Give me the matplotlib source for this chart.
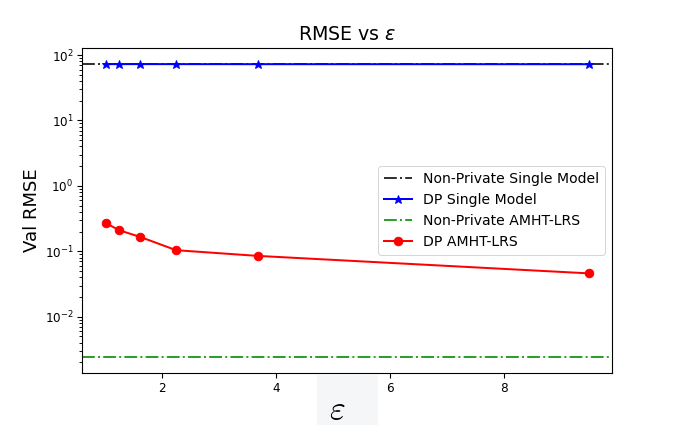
import numpy as np
import matplotlib.pyplot as plt
from matplotlib.patches import Rectangle

# values
eps = [1.02, 1.25, 1.62, 2.25, 3.69, 9.49]
dp_single = [72.5, 72.5, 72.6, 72.5, 72.4, 72.3]
dp_amht = [0.27, 0.21, 0.166, 0.104, 0.085, 0.046]
nonpriv_single = 73.0
nonpriv_amht = 0.00245

fig = plt.figure(figsize=(678 / 72, 425 / 72), dpi=72)
ax = fig.add_axes([82 / 678, 1 - 373 / 425, 530 / 678, 325 / 425])

ax.axhline(nonpriv_single, color='k', linestyle='-.', lw=2, alpha=0.8, label='Non-Private Single Model')
ax.plot(eps, dp_single, color='b', marker='*', lw=2, markersize=9, label='DP Single Model')
ax.axhline(nonpriv_amht, color='tab:green', linestyle='-.', lw=2, label='Non-Private AMHT-LRS')
ax.plot(eps, dp_amht, color='r', marker='o', lw=2, markersize=8.5, label='DP AMHT-LRS')

ax.set_yscale('log')
ax.set_xlim(0.6, 9.9)
ax.set_ylim(10 ** -2.86, 10 ** 2.107)
ax.set_xticks([2, 4, 6, 8])
ax.tick_params(labelsize=12, length=5, width=1.1)
ax.tick_params(which='minor', length=3, width=0.9)
for s in ax.spines.values():
    s.set_linewidth(1.1)

ax.set_title(r'RMSE vs $\epsilon$', fontsize=19, pad=8)
ax.set_ylabel('Val RMSE', fontsize=18)
ax.legend(loc='center right', fontsize=14, bbox_to_anchor=(1, 0.5))

# the x label in the reference is a pasted LaTeX snippet on a pale box
fig.patches.append(Rectangle((317 / 678, 0), 61 / 678, 50 / 425, transform=fig.transFigure,
                             facecolor='#f5f6f8', edgecolor='none', zorder=0))
fig.text(337 / 678, 1 - 410 / 425, r'$\varepsilon$', fontsize=34, ha='center', va='center',
         math_fontfamily='cm')

fig.savefig('out.png', dpi=72)
